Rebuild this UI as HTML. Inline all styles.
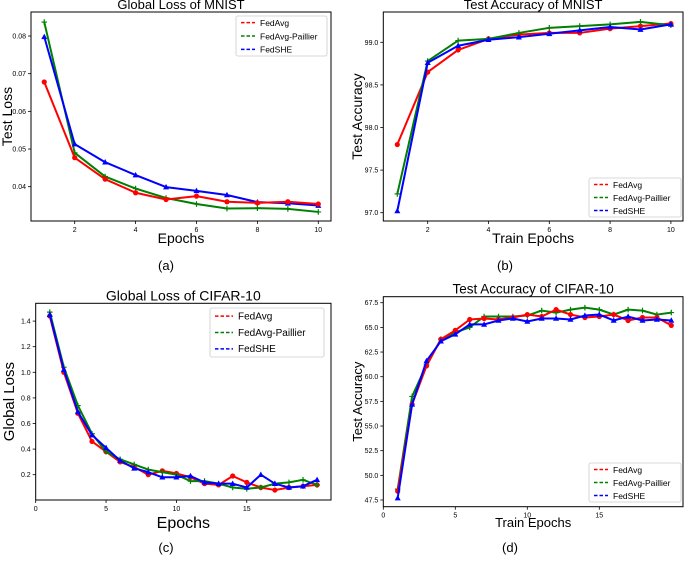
<!DOCTYPE html>
<html><head><meta charset="utf-8">
<style>
body{margin:0;background:#fff;}
svg{display:block;font-family:"Liberation Sans","DejaVu Sans",sans-serif;}
</style></head>
<body>
<svg id="fig" width="685" height="562" viewBox="0 0 685 562" xmlns="http://www.w3.org/2000/svg"></svg>
<script>
// ---- data ----
const aEpochs=[1,2,3,4,5,6,7,8,9,10];
const aFedAvg=[.0678,.0477,.042,.0384,.0366,.0375,.036,.0357,.036,.0354];
const aPaillier=[.0837,.049,.0427,.0395,.037,.0354,.0342,.0343,.0341,.0333];
const aFedSHE=[.0798,.0513,.0465,.0431,.0399,.0389,.0378,.0359,.0356,.035];
const aYTicks=[0.04,0.05,0.06,0.07,0.08];
const aXTicks=[2,4,6,8,10];

const bEpochs=[1,2,3,4,5,6,7,8,9,10];
const bFedAvg=[97.8,98.65,98.91,99.04,99.09,99.11,99.11,99.16,99.19,99.22];
const bPaillier=[97.22,98.78,99.02,99.04,99.11,99.17,99.19,99.21,99.24,99.2];
const bFedSHE=[97.02,98.76,98.96,99.03,99.06,99.1,99.14,99.18,99.15,99.21];
const bYTicks=[97.0,97.5,98.0,98.5,99.0];
const bXTicks=[2,4,6,8,10];

const cEpochs=[1,2,3,4,5,6,7,8,9,10,11,12,13,14,15,16,17,18,19,20];
const cFedAvg=[1.44,1.0,0.68,0.46,0.38,0.3,0.26,0.2,0.23,0.21,0.18,0.13,0.12,0.19,0.14,0.1,0.08,0.1,0.11,0.12];
const cPaillier=[1.47,1.04,0.74,0.52,0.38,0.32,0.28,0.24,0.22,0.2,0.15,0.15,0.13,0.1,0.09,0.1,0.13,0.14,0.16,0.12];
const cFedSHE=[1.45,1.02,0.69,0.51,0.41,0.31,0.25,0.22,0.18,0.18,0.19,0.14,0.13,0.13,0.1,0.2,0.13,0.1,0.11,0.16];
const cYTicks=[0.2,0.4,0.6,0.8,1.0,1.2,1.4];
const cXTicks=[0,5,10,15];

const dEpochs=[1,2,3,4,5,6,7,8,9,10,11,12,13,14,15,16,17,18,19,20];
const dFedAvg=[48.4,57.2,61.1,63.8,64.7,65.8,65.9,65.8,66.0,66.3,66.1,66.8,66.3,66.0,66.1,66.3,65.7,66.0,66.0,65.2];
const dPaillier=[48.6,58.0,61.2,63.8,64.5,65.0,66.1,66.1,66.1,66.2,66.7,66.5,66.8,67.0,66.8,66.3,66.8,66.7,66.3,66.5];
const dFedSHE=[47.7,57.2,61.6,63.6,64.3,65.3,65.3,65.7,65.9,65.6,65.9,65.9,65.8,66.2,66.3,65.7,66.1,65.7,65.8,65.7];
const dYTicks=[47.5,50.0,52.5,55.0,57.5,60.0,62.5,65.0,67.5];
const dXTicks=[0,5,10,15];

const NS="http://www.w3.org/2000/svg";
const svg=document.getElementById('fig');
function mk(tag,attrs,parent,text){const e=document.createElementNS(NS,tag);for(const k in attrs)e.setAttribute(k,attrs[k]);if(text!==undefined)e.textContent=text;(parent||svg).appendChild(e);return e;}

const COL={avg:'#ff0000',pai:'#008000',she:'#0000ff'};

function panel(p){
  const g=mk('g',{});
  
  
  const xs=v=>p.x0px+(v-p.x0v)*p.xk;
  const ys=v=>p.y0px-(v-p.y0v)*p.yk;
  p.xt.forEach(t=>{
    const x=xs(t);
    mk('line',{x1:x,x2:x,y1:p.B,y2:p.B+3,stroke:'#000','stroke-width':0.8},g);
    const tl=mk('text',{x:x,y:p.B+11,'font-size':7,'text-anchor':'middle'},g,String(t));
    
    
  });
  p.yt.forEach(t=>{
    const y=ys(t);
    mk('line',{x1:p.L-3,x2:p.L,y1:y,y2:y,stroke:'#000','stroke-width':0.8},g);
    const tl=mk('text',{x:p.L-5,y:y+2.5,'font-size':7,'text-anchor':'end'},g,t.toFixed(p.dec));
    
    
  });
  const series=[[p.pai,COL.pai,'plus','fedavg-paillier'],[p.she,COL.she,'tri','fedshe'],[p.avg,COL.avg,'circ','fedavg']];
  const order=p.order||[0,1,2];
  order.forEach(i=>{
    const [vals,c,m,name]=series[i];
    const pts=vals.map((v,j)=>[xs(p.ep[j]),ys(v)]);
    const pl=mk('polyline',{points:pts.map(q=>q.join(',')).join(' '),fill:'none',stroke:c,'stroke-width':2,'stroke-linejoin':'round'},g);
    
    
    pts.forEach(([x,y])=>{
      let e;
      if(m==='circ')e=mk('circle',{cx:x,cy:y,r:2.6,fill:c},g);
      else if(m==='tri')e=mk('polygon',{points:`${x},${y-3.2} ${x-3},${y+2.3} ${x+3},${y+2.3}`,fill:c},g);
      else e=mk('path',{d:`M${x-2.8},${y}H${x+2.8}M${x},${y-2.8}V${y+2.8}`,stroke:c,'stroke-width':1.2},g);
      
      
    });
  });
  mk('rect',{x:p.L,y:p.T,width:p.R-p.L,height:p.B-p.T,fill:'none',stroke:'#000','stroke-width':1},g);
  const t=mk('text',{x:(p.L+p.R)/2,y:p.T-3,'font-size':p.tfs,'text-anchor':'middle'},g,p.title);
  
  const xl=mk('text',{x:(p.L+p.R)/2,y:p.xly,'font-size':p.xlfs||p.lfs,'text-anchor':'middle'},g,p.xlabel);
  
  const yly=(p.T+p.B)/2;
  const yl=mk('text',{x:p.ylx,y:yly,'font-size':p.lfs,'text-anchor':'middle',transform:`rotate(-90 ${p.ylx} ${yly})`},g,p.ylabel);
  
  const lg=mk('g',{},g);
  
  const [lx,ly,lw,lh]=p.leg;
  mk('rect',{x:lx,y:ly,width:lw,height:lh,fill:'#fff',stroke:'#ccc','stroke-width':0.8,rx:2},lg);
  const names=[['FedAvg',COL.avg],['FedAvg-Paillier',COL.pai],['FedSHE',COL.she]];
  const step=lh/3;
  names.forEach(([n,c],i)=>{
    const y=ly+step*(i+0.5);
    mk('line',{x1:lx+5,x2:lx+5+p.lfw,y1:y,y2:y,stroke:c,'stroke-width':1.5,'stroke-dasharray':'3.5,2'},lg);
    const le=mk('text',{x:lx+10+p.lfw,y:y+3.3,'font-size':p.lgfs},lg,n);
    
  });
  const cap=mk('text',{x:p.cap[0],y:p.cap[1],'font-size':13,'text-anchor':'middle'},g,p.capText);
  
}

panel({id:'mnist-loss',L:31,R:331,T:12,B:221,x0v:2,x0px:74.7,xk:30.45,y0v:0.04,y0px:186.7,yk:3767,
  ep:aEpochs,avg:aFedAvg,pai:aPaillier,she:aFedSHE,xt:aXTicks,yt:aYTicks,dec:2,
  title:'Global Loss of MNIST',tfs:13,xlabel:'Epochs',ylabel:'Test Loss',lfs:14,xly:243,ylx:12,
  leg:[236,16,91,40],lfw:14,lgfs:8.5,cap:[166,270],capText:'(a)',order:[0,1,2]});
panel({id:'mnist-acc',L:383.3,R:683,T:12,B:221,x0v:2,x0px:427.7,xk:30.4,y0v:97.0,y0px:212.7,yk:85.2,
  ep:bEpochs,avg:bFedAvg,pai:bPaillier,she:bFedSHE,xt:bXTicks,yt:bYTicks,dec:1,
  title:'Test Accuracy of MNIST',tfs:13,xlabel:'Train Epochs',ylabel:'Test Accuracy',lfs:14,xly:243,ylx:362,
  leg:[589,178,92,39],lfw:14,lgfs:8.5,cap:[505,270],capText:'(b)',order:[2,0,1]});
panel({id:'cifar-loss',L:35.7,R:331,T:303.3,B:500,x0v:0,x0px:35.7,xk:14.07,y0v:0.2,y0px:474.7,yk:128,
  ep:cEpochs,avg:cFedAvg,pai:cPaillier,she:cFedSHE,xt:cXTicks,yt:cYTicks,dec:1,
  title:'Global Loss of CIFAR-10',tfs:14,xlabel:'Epochs',xlfs:16,ylabel:'Global Loss',lfs:15,xly:528,ylx:14,
  leg:[210,308,114,49],lfw:18,lgfs:10,cap:[166,552],capText:'(c)',order:[2,0,1]});
panel({id:'cifar-acc',L:383.3,R:683,T:296.7,B:506.7,x0v:0,x0px:383.3,xk:14.4,y0v:47.5,y0px:500,yk:9.864,
  ep:dEpochs,avg:dFedAvg,pai:dPaillier,she:dFedSHE,xt:dXTicks,yt:dYTicks,dec:1,
  title:'Test Accuracy of CIFAR-10',tfs:13.5,xlabel:'Train Epochs',ylabel:'Test Accuracy',lfs:13,xly:527,ylx:362,
  leg:[589,463,92,39],lfw:14,lgfs:8.5,cap:[510,552],capText:'(d)',order:[0,2,1]});
</script>
</body></html>
